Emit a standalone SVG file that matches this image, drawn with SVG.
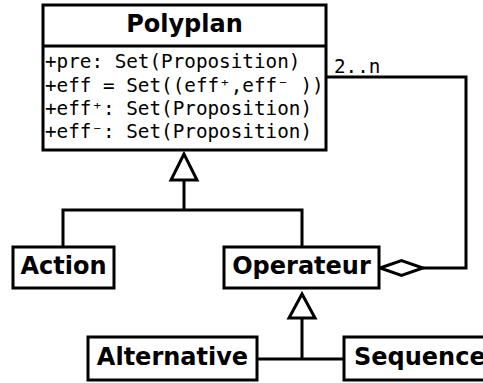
<svg xmlns="http://www.w3.org/2000/svg" width="483" height="383" viewBox="0 0 483 383">
<style>
.box{fill:#fff;stroke:#000;stroke-width:3}
.ln{fill:none;stroke:#000;stroke-width:3}
.head{fill:#fff;stroke:#000;stroke-width:3;stroke-linejoin:miter}
.lbl{font-family:"DejaVu Sans",sans-serif;font-weight:bold;font-size:24px;fill:#000}
.mono{font-family:"DejaVu Sans Mono",monospace;font-size:19.3px;fill:#000}
</style>
<rect width="483" height="383" fill="#fff"/>
<g id="connectors">
<polyline class="ln" points="184,180 184,210"/>
<polyline class="ln" points="63,247 63,210 302,210 302,247"/>
<polygon class="head" points="184,154 171,180 197,180"/>
<polyline class="ln" points="302,318 302,359"/>
<polyline class="ln" points="257,359 344,359"/>
<polygon class="head" points="302,294 289,318 315,318"/>
<polyline class="ln" points="326,77 466,77 466,268 423,268"/>
<polygon class="head" points="380,268 401.5,260.5 423,268 401.5,275.5"/>
<text class="mono" x="334" y="73">2..n</text>
</g>
<g id="Polyplan">
<rect class="box" x="43" y="5" width="283" height="145"/>
<line class="ln" x1="43" y1="46" x2="326" y2="46"/>
<text class="lbl" x="184.5" y="32" text-anchor="middle">Polyplan</text>
<text class="mono" x="45" y="68">+pre: Set(Proposition)</text>
<text class="mono" x="45" y="92">+eff = Set((eff⁺,eff⁻ ))</text>
<text class="mono" x="45" y="115">+eff⁺: Set(Proposition)</text>
<text class="mono" x="45" y="138">+eff⁻: Set(Proposition)</text>
</g>
<g id="Action">
<rect class="box" x="13" y="247" width="101" height="41"/>
<text class="lbl" x="63.5" y="274" text-anchor="middle">Action</text>
</g>
<g id="Operateur">
<rect class="box" x="224" y="247" width="155" height="41"/>
<text class="lbl" x="301.5" y="274" text-anchor="middle">Operateur</text>
</g>
<g id="Alternative">
<rect class="box" x="88" y="337" width="169" height="43"/>
<text class="lbl" x="172.5" y="365" text-anchor="middle">Alternative</text>
</g>
<g id="Sequence">
<rect class="box" x="344" y="337" width="160" height="43"/>
<text class="lbl" x="354" y="365">Sequence</text>
</g>
</svg>
